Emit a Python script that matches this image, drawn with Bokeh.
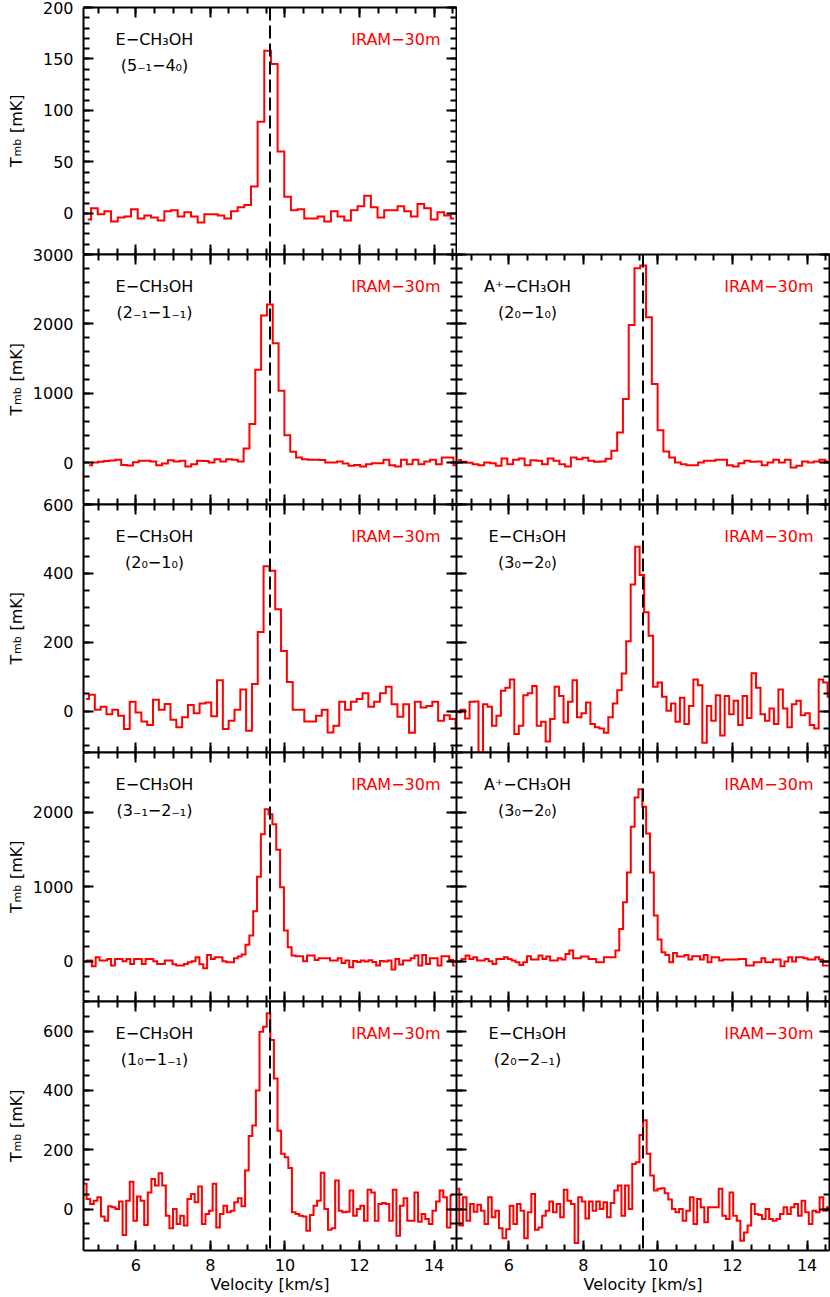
import numpy as np
from bokeh.plotting import figure
from bokeh.models import LinearAxis, FixedTicker, Span, Label, Range1d
from bokeh.layouts import column, row
from bokeh.embed import file_html
from bokeh.resources import INLINE

FONT = "DejaVu Sans"

# ---------------- axes / reference values ----------------
vel_min, vel_max = 4.6, 14.6
v_lsr = 9.6
x_major = [6, 8, 10, 12, 14]
x_minor = [5, 5.5, 6, 6.5, 7, 7.5, 8, 8.5, 9, 9.5, 10, 10.5, 11, 11.5,
           12, 12.5, 13, 13.5, 14, 14.5]

row_yrange = [(-40, 200), (-600, 3000), (-120, 600), (-540, 2800), (-140, 700)]
row_ymajor = [[0, 50, 100, 150, 200], [0, 1000, 2000, 3000], [0, 200, 400, 600],
              [0, 1000, 2000], [0, 200, 400, 600]]
row_yminor = [list(range(-30, 201, 10)), list(range(-600, 3001, 200)),
              list(range(-100, 601, 50)), list(range(-400, 2801, 200)),
              list(range(-100, 701, 50))]

# ---------------- spectra (first channel centre, channel width in km/s; Tmb in mK) ----------------
# E-CH3OH (5_-1 - 4_0)
s1_v0, s1_dv = 4.714, 0.1786
s1_t = [-6, 5, -1, 2, -8, -4, -3, 4, -5, -2, -4, -7, 2, 3, -3, 1, -3, -9, -1, -1,
        -2, -5, 2, 6, 8, 26, 89, 158, 145, 60, 16, 3, 4, -5, -5, -3, -8, 2, -3, -7,
        3, 7, 17, 6, -4, 3, 3, 7, 2, -3, 9, 5, -6, 1, -2, -5]

# E-CH3OH (2_-1 - 1_-1)
s2_v0, s2_dv = 4.752, 0.15625
s2_t = [-34, 5, 15, 25, 35, 43, -30, -40, 10, 29, 29, 20, -34, -10, 38, 20, 29, -53,
        -19, 29, 25, 5, 53, 19, 53, 43, 20,
        207, 558, 1341, 2120, 2279, 1721, 1038, 399, 159, 77, 53,
        43, 43, 40, 5, 5, 19, -10, -43, -30, -53, -19, -5, -5, 43, -34, -53, 43, -19,
        43, -19, 19, 43, -19, 77, 77, -34]

# A+-CH3OH (2_0 - 1_0)
s3_v0, s3_dv = 4.6446, 0.155
s3_t = [40, 14, 0, -19, -34, 5, -5, -43, 62, -19, 43, 62, -34, 38, 29, -19, 62, 29,
        -19, -53, 77, 53, 72, 29, 14, 20,
        60, 173, 437, 918, 1986, 2803, 2841, 2096, 1135, 471, 163, 77,
        5, -19, -34, -34, 5, 29, 29, 43, 43, -34, -53, -5, 29, 14, 19, -34, 5, 43, 5,
        43, -67, -43, 19, 5, 19, 43, 19]

# E-CH3OH (2_0 - 1_0)
s4_v0, s4_dv = 4.67, 0.156
s4_t = [35, 48, 4, 13, -9, 4, -13, -52, 27, -4, -30, -40, 33, 4, 21, -25, -47, -18,
        18, -6, 22, 25, -15, 90, -52, -28, 4, 63, -57, 79,
        230, 421, 408, 296, 175, 85,
        4, 4, -30, -30, -13, 4, -62, -42, 27, 4, 27, 35, 52, 13, 27, 52, 71, 20, -16,
        20, -63, 27, 11, 15, 27, -28, -12, -23, -52]

# E-CH3OH (3_0 - 2_0)
s5_v0, s5_dv = 4.65, 0.12
s5_t = [-4, 4, -21, 27, 28, -130, 20, 13, -42, -13, 59, 68, 92, -66, -42, 46, 52, 73,
        -42, -31, -88, -23, 71, 44, -33, 27, 90, -18, -6, 25, -37, -47, -50, -63, -18,
        22, 61, 109,
        203, 368, 477, 395, 287, 219, 71, 83, 42,
        1, 22, -31, 39, -37, 15, 92, 75, -92, 15, -28, 46, -71, 44, -9, 30, -40, 44,
        -20, 110, 68, -9, -28, 8, -37, 63, 8, -47, 20, 30, -12, -6, -40, -50, 92, 83, 42]

# E-CH3OH (3_-1 - 2_-1)
s6_v0, s6_dv = 4.669, 0.103
s6_t = [9, 9, -67, 54, 9, 9, 30, -58, 31, 31, 0, 31, -36, 31, 31, -36, 31, 30, 0, -36,
        -36, 9, 9, -40, -58, -58, -36, -13, 0, 54, -40, -94, 85, 30, 54, 54, 0, -13,
        -13, 40, 63,
        90, 220, 345, 672, 1134, 1705, 2040, 1973, 1839, 1495, 991, 411, 187, 76,
        67, 67, 0, 76, 76, 18, 40, 40, 40, 9, 9, 40, -22, 9, -80, 4, -9, 9, -4, 13,
        -9, -58, 4, -4, 9, -112, 30, -45, 9, 9, 40, 76, -58, 85, -36, 40, 40, -58, 67,
        67, 18, -58]

# A+-CH3OH (3_0 - 2_0)
s7_v0, s7_dv = 4.689, 0.103
s7_t = [9, 31, 76, 31, 54, 9, 9, 31, 0, -36, 31, 31, 54, 31, 9, -13, -49, -13, 67, 22,
        22, 76, 31, 63, 9, 9, 40, 22, 98, 143, 40, 40, 63, 63, 31, 31, -13, -13, 54,
        54, 54,
        143, 433, 790, 1192, 1804, 2196, 2308, 2071, 1714, 1192, 612, 290, 121, 85,
        -13, 112, 63, 63, 85, 22, 67, 67, 22, 85, -13, 54, 54, 9, 22, 22, 22, 22, 31,
        31, -58, -58, -13, -13, 40, -13, -13, 22, 22, -67, -4, 54, -4, 54, 54, 40, 22,
        22, 54, 22, -58, -58]

# E-CH3OH (1_0 - 1_-1)
s8_v0, s8_dv = 4.537, 0.0966
s8_t = [45, 85, 34, 17, 28, 40, -25, -40, 9, 6, 0, 25, -88, 28, 92, -40, 42, 28, -54,
        56, 101, 79, 121, 79, -23, -65, 0, -51, -23, -56, 34, 51, 23, 76, -51, -17, -6,
        85, -62, -17, 11, -11, -6, 23, 36, 9, 130, 246, 282, 400, 598, 615, 660, 570,
        440, 264, 186, 175, 138, -11, -17, -23, -25, -73, -20, 11, 28, 122, 0, -70,
        -65, 96, -6, -11, -9, 62, -23, 0, 11, -40, 65, 56, -40, 17, 20, 17, -40, 65,
        -90, 11, 36, -40, -40, 56, -43, -17, -34, -51, -6, 25, 62, 40, -62, 45]

# E-CH3OH (2_0 - 2_-1)
s9_v0, s9_dv = 4.627, 0.0966
s9_t = [68, -56, 40, -40, 17, -9, 14, -6, -51, 40, -28, -6, -65, -99, -68, 11, -51, 17,
        -6, -99, -11, 51, -70, -62, -23, -6, 25, -11, 17, -28, 65, 28, 17, -115, 40,
        25, -32, 25, -6, 25, 0, 23, -28, 20, 62, 79, -23, 79, 0, 152, 158, 250, 299,
        186, 113, 62, 68, 70, 53, 32, 0, -11, 0, -40, -6, 40, -51, 34, 6, -45, 6, 6,
        6, 68, -23, -34, 56, -23, -40, -107, -79, -56, 17, -17, -20, -34, 0, -34, -40,
        -34, -17, 6, -17, 6, 17, -23, 28, -11, -51, -6, -11, 40, -6, 6, 11]

species = ["E−CH₃OH", "E−CH₃OH", "A⁺−CH₃OH", "E−CH₃OH", "E−CH₃OH",
           "E−CH₃OH", "A⁺−CH₃OH", "E−CH₃OH", "E−CH₃OH"]
transitions = ["(5₋₁−4₀)", "(2₋₁−1₋₁)", "(2₀−1₀)", "(2₀−1₀)", "(3₀−2₀)",
               "(3₋₁−2₋₁)", "(3₀−2₀)", "(1₀−1₋₁)", "(2₀−2₋₁)"]
telescope = "IRAM−30m"

spectra = [(s1_v0, s1_dv, s1_t), (s2_v0, s2_dv, s2_t), (s3_v0, s3_dv, s3_t),
           (s4_v0, s4_dv, s4_t), (s5_v0, s5_dv, s5_t), (s6_v0, s6_dv, s6_t),
           (s7_v0, s7_dv, s7_t), (s8_v0, s8_dv, s8_t), (s9_v0, s9_dv, s9_t)]
grid_pos = [(0, 0), (1, 0), (1, 1), (2, 0), (2, 1), (3, 0), (3, 1), (4, 0), (4, 1)]

FW = 373            # frame width of each panel
LB = 83             # left border (tick labels + y title) of left-column panels
OVER = 10           # overlap between rows so that edge tick labels are not cut
FH = [247, 250, 248, 249, 249]
TOP0 = 7
BOT = 46
FS = "16px"


def border(r):
    return (TOP0 if r == 0 else OVER), (BOT if r == 4 else 0)


def style_axis(ax, labelled, ticks):
    ax.axis_line_width = 2
    ax.axis_line_color = "black"
    ax.major_tick_in = 10
    ax.major_tick_out = 0
    ax.minor_tick_in = 6
    ax.minor_tick_out = 0
    ax.major_tick_line_width = 2
    ax.minor_tick_line_width = 2
    ax.major_tick_line_color = "black"
    ax.minor_tick_line_color = "black"
    if labelled:
        ax.major_label_text_font = FONT
        ax.major_label_text_font_size = FS
        ax.major_label_text_color = "black"
    else:
        ax.major_label_overrides = {t: "" for t in ticks}
        ax.major_label_text_font_size = "0px"
        ax.major_label_standoff = 0


def make_label_fig(r):
    """Strip under the left border of the left panel carrying the y-axis title."""
    fh = FH[r]
    bt, bb = border(r)
    lf = figure(frame_width=LB, frame_height=fh, x_range=Range1d(0, 1),
                y_range=Range1d(0, 1), output_backend="svg", toolbar_location=None,
                x_axis_location=None, y_axis_location=None,
                min_border_left=0, min_border_right=0,
                min_border_top=bt, min_border_bottom=bb)
    lf.grid.visible = False
    lf.outline_line_color = None
    lf.border_fill_color = None
    lf.background_fill_color = None
    y0 = fh / 2 - 36
    ang = np.pi / 2
    lf.add_layout(Label(x=16, y=y0, x_units="screen", y_units="screen",
                        text="T", angle=ang, text_align="left",
                        text_baseline="alphabetic", text_font=FONT,
                        text_font_size="16px", text_color="black"))
    lf.add_layout(Label(x=17, y=y0 + 10.5, x_units="screen", y_units="screen",
                        text="mb", angle=ang, text_align="left",
                        text_baseline="alphabetic", text_font=FONT,
                        text_font_size="11px", text_color="black"))
    lf.add_layout(Label(x=16, y=y0 + 34, x_units="screen", y_units="screen",
                        text="[mK]", angle=ang, text_align="left",
                        text_baseline="alphabetic", text_font=FONT,
                        text_font_size="16px", text_color="black"))
    return lf


def make_panel(idx):
    r, c = grid_pos[idx]
    v0, dv, tmb = spectra[idx]
    vel = v0 + dv * np.arange(len(tmb))
    left = c == 0
    bottom = r == 4
    fh = FH[r]
    bt, bb = border(r)
    p = figure(frame_width=FW, frame_height=fh,
               x_range=Range1d(vel_min, vel_max), y_range=Range1d(*row_yrange[r]),
               output_backend="svg", toolbar_location=None,
               x_axis_location=None, y_axis_location=None,
               min_border_left=LB if left else 0,
               min_border_right=1 if (c == 1 or r == 0) else 0,
               min_border_top=bt, min_border_bottom=bb,
               margin=(0, 0, 0, -LB) if left else None)
    p.grid.visible = False
    p.outline_line_color = None
    p.border_fill_color = None
    p.background_fill_color = "white"

    yt = FixedTicker(ticks=row_ymajor[r], minor_ticks=row_yminor[r])
    xt = FixedTicker(ticks=x_major, minor_ticks=x_minor)
    for loc in ["left", "right", "above", "below"]:
        vert = loc in ("left", "right")
        ax = LinearAxis(ticker=yt if vert else xt)
        labelled = (loc == "left" and left) or (loc == "below" and bottom)
        style_axis(ax, labelled, row_ymajor[r] if vert else x_major)
        if loc == "left" and labelled:
            ax.major_label_standoff = 10
        if loc == "below" and labelled:
            ax.major_label_standoff = 8
            ax.axis_label = "Velocity [km/s]"
            ax.axis_label_text_font = FONT
            ax.axis_label_text_font_size = FS
            ax.axis_label_text_font_style = "normal"
            ax.axis_label_text_color = "black"
            ax.axis_label_standoff = 1
        p.add_layout(ax, loc)

    p.step(x=vel, y=tmb, mode="center", line_color="#ff0000", line_width=2,
           line_join="miter")
    p.add_layout(Span(location=v_lsr, dimension="height", line_color="black",
                      line_width=2, line_dash="13 5"))

    p.add_layout(Label(x=71, y=fh - 32, x_units="screen", y_units="screen",
                       text=species[idx], text_align="center",
                       text_baseline="alphabetic", text_font=FONT,
                       text_font_size=FS, text_color="black"))
    p.add_layout(Label(x=71, y=fh - 58, x_units="screen", y_units="screen",
                       text=transitions[idx], text_align="center",
                       text_baseline="alphabetic", text_font=FONT,
                       text_font_size=FS, text_color="black"))
    p.add_layout(Label(x=FW - 16, y=fh - 32, x_units="screen", y_units="screen",
                       text=telescope, text_align="right",
                       text_baseline="alphabetic", text_font=FONT,
                       text_font_size=FS, text_color="#ff0000"))
    return p


figs = [make_panel(i) for i in range(9)]
labs = [make_label_fig(r) for r in range(5)]

rows = [row(labs[0], figs[0])]
for k in range(4):
    rows.append(row(labs[k + 1], figs[1 + 2 * k], figs[2 + 2 * k],
                    margin=(-OVER, 0, 0, 0)))
layout = column(*rows)

open("out.html", "w").write(file_html(layout, INLINE))
